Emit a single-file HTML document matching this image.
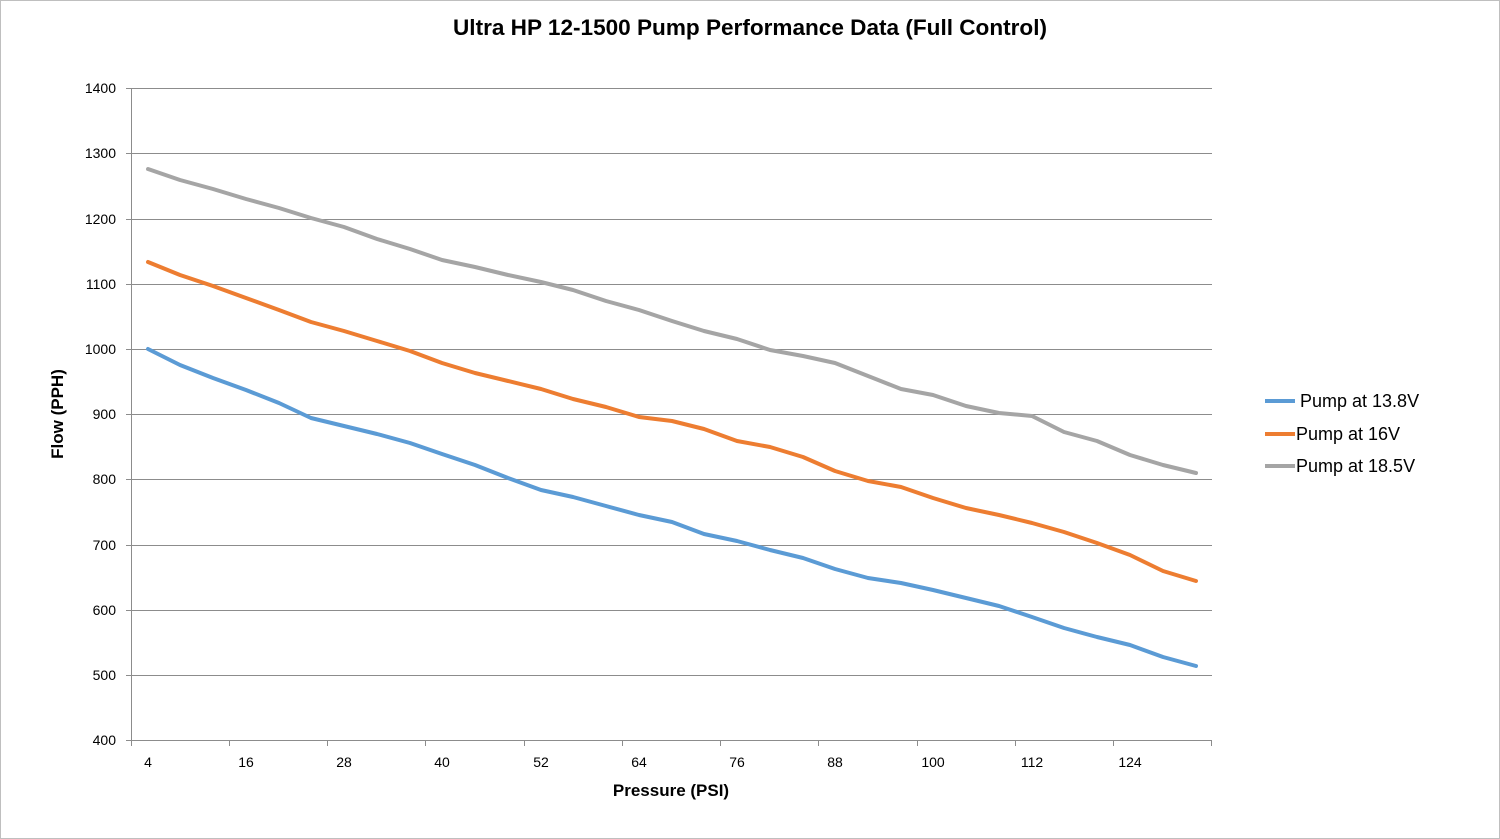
<!DOCTYPE html>
<html><head><meta charset="utf-8"><style>
html,body{margin:0;padding:0;background:#fff;}
svg{display:block;font-family:"Liberation Sans",Calibri,sans-serif;}
</style></head><body>
<svg width="1500" height="839" viewBox="0 0 1500 839">
<rect x="0.5" y="0.5" width="1499" height="838" fill="#fff" stroke="#bfbfbf"/>
<text x="750" y="35" text-anchor="middle" font-size="22.5" font-weight="bold" fill="#000" textLength="594" lengthAdjust="spacingAndGlyphs">Ultra HP 12-1500 Pump Performance Data (Full Control)</text>
<g stroke="#8c8c8c" stroke-width="1">
<line x1="131" y1="88.5" x2="1212" y2="88.5"/>
<line x1="131" y1="153.5" x2="1212" y2="153.5"/>
<line x1="131" y1="219.5" x2="1212" y2="219.5"/>
<line x1="131" y1="284.5" x2="1212" y2="284.5"/>
<line x1="131" y1="349.5" x2="1212" y2="349.5"/>
<line x1="131" y1="414.5" x2="1212" y2="414.5"/>
<line x1="131" y1="479.5" x2="1212" y2="479.5"/>
<line x1="131" y1="545.5" x2="1212" y2="545.5"/>
<line x1="131" y1="610.5" x2="1212" y2="610.5"/>
<line x1="131" y1="675.5" x2="1212" y2="675.5"/>
<line x1="131" y1="740.5" x2="1212" y2="740.5"/>
<line x1="131.5" y1="88" x2="131.5" y2="746"/>
<line x1="126" y1="88.5" x2="131" y2="88.5"/><line x1="126" y1="153.5" x2="131" y2="153.5"/><line x1="126" y1="219.5" x2="131" y2="219.5"/><line x1="126" y1="284.5" x2="131" y2="284.5"/><line x1="126" y1="349.5" x2="131" y2="349.5"/><line x1="126" y1="414.5" x2="131" y2="414.5"/><line x1="126" y1="479.5" x2="131" y2="479.5"/><line x1="126" y1="545.5" x2="131" y2="545.5"/><line x1="126" y1="610.5" x2="131" y2="610.5"/><line x1="126" y1="675.5" x2="131" y2="675.5"/><line x1="126" y1="740.5" x2="131" y2="740.5"/>
<line x1="229.5" y1="740" x2="229.5" y2="746"/><line x1="327.5" y1="740" x2="327.5" y2="746"/><line x1="425.5" y1="740" x2="425.5" y2="746"/><line x1="524.5" y1="740" x2="524.5" y2="746"/><line x1="622.5" y1="740" x2="622.5" y2="746"/><line x1="720.5" y1="740" x2="720.5" y2="746"/><line x1="818.5" y1="740" x2="818.5" y2="746"/><line x1="917.5" y1="740" x2="917.5" y2="746"/><line x1="1015.5" y1="740" x2="1015.5" y2="746"/><line x1="1113.5" y1="740" x2="1113.5" y2="746"/><line x1="1211.5" y1="740" x2="1211.5" y2="746"/>
</g>
<g font-size="14" fill="#000" text-anchor="end">
<text x="116" y="93">1400</text><text x="116" y="158">1300</text><text x="116" y="224">1200</text><text x="116" y="289">1100</text><text x="116" y="354">1000</text><text x="116" y="419">900</text><text x="116" y="484">800</text><text x="116" y="550">700</text><text x="116" y="615">600</text><text x="116" y="680">500</text><text x="116" y="745">400</text>
</g>
<g font-size="14" fill="#000" text-anchor="middle">
<text x="148" y="767">4</text><text x="246" y="767">16</text><text x="344" y="767">28</text><text x="442" y="767">40</text><text x="541" y="767">52</text><text x="639" y="767">64</text><text x="737" y="767">76</text><text x="835" y="767">88</text><text x="933" y="767">100</text><text x="1032" y="767">112</text><text x="1130" y="767">124</text>
</g>
<text x="671" y="796" text-anchor="middle" font-size="17" font-weight="bold">Pressure (PSI)</text>
<text transform="translate(63,414) rotate(-90)" text-anchor="middle" font-size="17" font-weight="bold">Flow (PPH)</text>
<g fill="none" stroke-width="4" stroke-linejoin="round" stroke-linecap="round">
<polyline stroke="#a5a5a5" points="148,169 180,180 213,189 246,199 279,208 311,218 344,227 377,239 410,249 442,260 475,267 508,275 541,282 573,290 606,301 639,310 672,321 704,331 737,339 770,350 803,356 835,363 868,376 901,389 933,395 966,406 999,413 1032,416 1064,432 1097,441 1130,455 1163,465 1196,473"/>
<polyline stroke="#ed7d31" points="148,262 180,275 213,286 246,298 279,310 311,322 344,331 377,341 410,351 442,363 475,373 508,381 541,389 573,399 606,407 639,417 672,421 704,429 737,441 770,447 803,457 835,471 868,481 901,487 933,498 966,508 999,515 1032,523 1064,532 1097,543 1130,555 1163,571 1196,581"/>
<polyline stroke="#5b9bd5" points="148,349 180,365 213,378 246,390 279,403 311,418 344,426 377,434 410,443 442,454 475,465 508,478 541,490 573,497 606,506 639,515 672,522 704,534 737,541 770,550 803,558 835,569 868,578 901,583 933,590 966,598 999,606 1032,617 1064,628 1097,637 1130,645 1163,657 1196,666"/>
</g>
<g stroke-width="4">
<line x1="1265" y1="401" x2="1295" y2="401" stroke="#5b9bd5"/>
<line x1="1265" y1="434" x2="1295" y2="434" stroke="#ed7d31"/>
<line x1="1265" y1="466" x2="1295" y2="466" stroke="#a5a5a5"/>
</g>
<g font-size="18" fill="#000">
<text x="1300" y="407">Pump at 13.8V</text>
<text x="1296" y="440">Pump at 16V</text>
<text x="1296" y="472">Pump at 18.5V</text>
</g>
</svg>
</body></html>
